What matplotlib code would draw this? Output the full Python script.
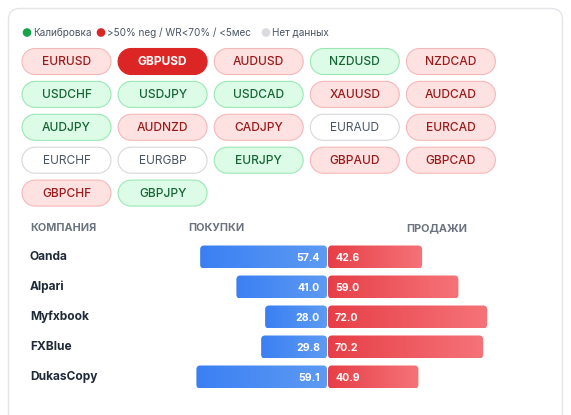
import matplotlib
matplotlib.use('Agg')
import matplotlib.pyplot as plt
import numpy as np
from matplotlib.patches import FancyBboxPatch, Circle, PathPatch
from matplotlib.path import Path
from matplotlib.transforms import blended_transform_factory
from matplotlib.colors import LinearSegmentedColormap

plt.rcParams['font.family'] = ['Inter', 'DejaVu Sans']

# данные
pairs = ['EURUSD', 'GBPUSD', 'AUDUSD', 'NZDUSD', 'NZDCAD',
         'USDCHF', 'USDJPY', 'USDCAD', 'XAUUSD', 'AUDCAD',
         'AUDJPY', 'AUDNZD', 'CADJPY', 'EURAUD', 'EURCAD',
         'EURCHF', 'EURGBP', 'EURJPY', 'GBPAUD', 'GBPCAD',
         'GBPCHF', 'GBPJPY']
status = ['red', 'active', 'red', 'green', 'red',
          'green', 'green', 'green', 'red', 'red',
          'green', 'red', 'red', 'none', 'red',
          'none', 'none', 'green', 'red', 'red',
          'red', 'green']
companies = ['Oanda', 'Alpari', 'Myfxbook', 'FXBlue', 'DukasCopy']
buys = [57.4, 41.0, 28.0, 29.8, 59.1]
sells = [42.6, 59.0, 72.0, 70.2, 40.9]
legend_labels = ['Калибровка', '>50% neg / WR<70% / <5мес', 'Нет данных']
headers = ['КОМПАНИЯ', 'ПОКУПКИ', 'ПРОДАЖИ']


def capsule(x0, y0, w, h):
    # контур "таблетки" из двух полуокружностей
    r = h / 2
    yc = y0 + r
    a1 = Path.arc(-90, 90)
    a2 = Path.arc(90, 270)
    v1 = a1.vertices * r + [x0 + w - r, yc]
    v2 = a2.vertices * r + [x0 + r, yc]
    c2 = a2.codes.copy()
    c2[0] = Path.LINETO
    verts = np.concatenate([v1, v2, [v1[0]]])
    codes = np.concatenate([a1.codes, c2, [Path.CLOSEPOLY]])
    return Path(verts, codes)


W, H = 571, 415
fig = plt.figure(figsize=(W / 100, H / 100), dpi=100)
ax = fig.add_axes([0, 0, 1, 1])
ax.set_xlim(0, W)
ax.set_ylim(H, 0)
ax.axis('off')

# карточка
card = FancyBboxPatch((8.5, 8.5), 554, 430, boxstyle="round,pad=0,rounding_size=11",
                      facecolor='white', edgecolor='#e3e5e8', linewidth=1.0)
ax.add_patch(card)

# легенда
leg_colors = ['#16a34a', '#dc2626', '#d9dbde']
leg_x = [27, 101, 266]
for lx, lc, lt in zip(leg_x, leg_colors, legend_labels):
    ax.add_patch(Circle((lx, 32.5), 3.6, color=lc))
    ax.text(lx + 6, 32.5, lt, fontsize=7.2, color='#4b5563', va='center', ha='left')

# плашки валютных пар
styles = {
    'red': dict(fc='#fee2e2', ec='#f5b8b8', tc='#991b1b', fw='medium'),
    'green': dict(fc='#dcfce7', ec='#9be8b6', tc='#166534', fw='medium'),
    'none': dict(fc='white', ec='#d6d8dc', tc='#4b5563', fw='normal'),
    'active': dict(fc='#dc2626', ec='#dc2626', tc='white', fw='bold'),
}
pw, ph = 89, 26
for i, (p, s) in enumerate(zip(pairs, status)):
    col, row = i % 5, i // 5
    x0 = 22 + col * 96.1
    y0 = 48.5 + row * 32.9
    st = styles[s]
    ax.add_patch(PathPatch(capsule(x0, y0, pw, ph), facecolor=st['fc'],
                           edgecolor=st['ec'], linewidth=0.8))
    ax.text(x0 + pw / 2, y0 + ph / 2 + 0.5, p, fontsize=8.6, color=st['tc'],
            fontweight=st['fw'], ha='center', va='center')

# заголовки таблицы
for hx, ht in zip([30, 188, 406], headers):
    ax.text(hx, 228, ht, fontsize=7.8, color='#6b7280', fontweight='bold',
            ha='left', va='center')

# бары
ppu = 2.21  # px на единицу
cx = 327.5
bx0, bx1 = 150, 520
by0, by1 = 242, 392
bax = fig.add_axes([bx0 / W, 1 - by1 / H, (bx1 - bx0) / W, (by1 - by0) / H])
bax.set_xlim(-(cx - bx0) / ppu, (bx1 - cx) / ppu)
bax.set_ylim(len(companies) - 0.5, -0.5)
bax.axis('off')
bax.patch.set_alpha(0)

rows_px = (by1 - by0) / len(companies)
aspect = (1 / rows_px) / (1 / ppu)
rr = 4 / ppu
bh = 23 / rows_px
gap = 0.5 / ppu

blue_cm = LinearSegmentedColormap.from_list('b', ['#3b80f4', '#5d9af2'])
red_cm = LinearSegmentedColormap.from_list('r', ['#e73f47', '#f57378'])
grad = np.linspace(0, 1, 64).reshape(1, -1)

for i, (b, s) in enumerate(zip(buys, sells)):
    for x_start, w, cm in [(-b - gap, b, blue_cm), (gap, s, red_cm)]:
        patch = FancyBboxPatch((x_start, i - bh / 2), w, bh,
                               boxstyle=f"round,pad=0,rounding_size={rr}",
                               mutation_aspect=aspect, facecolor='none', edgecolor='none')
        bax.add_patch(patch)
        im = bax.imshow(grad, cmap=cm, aspect='auto',
                        extent=(x_start, x_start + w, i + bh / 2, i - bh / 2),
                        interpolation='bicubic')
        im.set_clip_path(patch)
    bax.text(-gap - 7 / ppu, i + 0.02, f'{b:.1f}', color='white', fontsize=7.6,
             fontweight='bold', ha='right', va='center')
    bax.text(gap + 7 / ppu, i + 0.02, f'{s:.1f}', color='white', fontsize=7.6,
             fontweight='bold', ha='left', va='center')

bax.set_xlim(-(cx - bx0) / ppu, (bx1 - cx) / ppu)
bax.set_ylim(len(companies) - 0.5, -0.5)

tr = blended_transform_factory(ax.transData, bax.transData)
for i, c in enumerate(companies):
    bax.text(30, i, c, transform=tr, fontsize=8.6, fontweight='bold',
             color='#1f2937', ha='left', va='center')

fig.savefig('out.png', dpi=100, facecolor='white')
